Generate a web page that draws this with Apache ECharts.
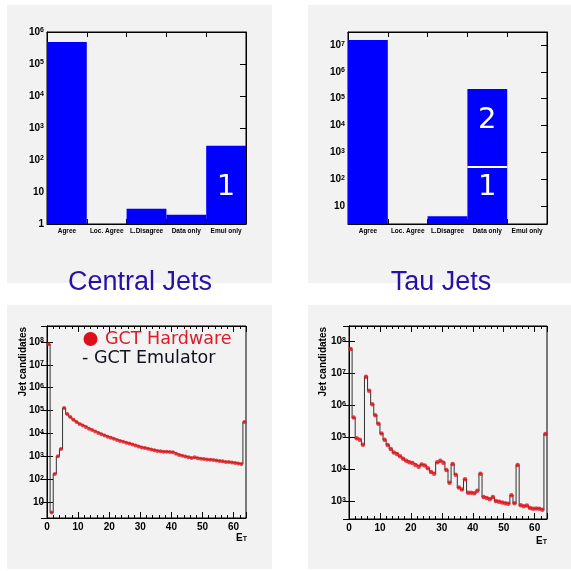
<!DOCTYPE html>
<html>
<head>
<meta charset="utf-8">
<script src="https://cdn.jsdelivr.net/npm/echarts@6/dist/echarts.min.js"></script>
<style>
  html, body { margin: 0; padding: 0; background: #fff; }
  #main { width: 571px; height: 571px; }
</style>
</head>
<body>
<div id="main"></div>
<script>
// comparison categories (top histograms)
var categories = ['Agree', 'Loc. Agree', 'L.Disagree', 'Data only', 'Emul only'];
var centralCounts = [4.9e5, null, 3, 1.95, 280];
var tauCounts = [1.55e7, null, 4.1, 2.3e5, null];
// white numbers drawn inside the bars: [category, y position, text]
var centralNotes = [['Emul only', 14, '1']];
var tauNotes = [['Data only', 1.6e4, '2'], ['Data only', 47, '1']];
var tauSplit = [['Data only', 280]];

// E_T spectra, one value per unit bin 0..63
var centralEt = [8e7, 3.5, 170, 1000, 2100, 1.3e5, 7e4, 5.2e4, 4e4, 3.2e4,
  2.6e4, 2.2e4, 1.9e4, 1.6e4, 1.4e4, 1.2e4, 1.05e4, 9200, 8200, 7200,
  6400, 5800, 5200, 4700, 4300, 3900, 3600, 3300, 3000, 2700,
  2450, 2300, 2150, 2000, 1850, 1700, 1650, 1600, 1600, 1550,
  1500, 1300, 1150, 1050, 980, 900, 850, 900, 830, 790,
  760, 730, 700, 680, 650, 620, 600, 560, 560, 540,
  510, 480, 460, 3.2e4];
var tauEt = [5.8e7, 4.2e5, 9.5e4, 8.5e4, 6.0e4, 7.8e6, 2.9e6, 1.1e6, 5.0e5, 2.7e5,
  1.35e5, 8.5e4, 5.9e4, 4.4e4, 3.4e4, 3.1e4, 2.6e4, 2.2e4, 1.9e4, 1.7e4,
  1.6e4, 1.4e4, 1.24e4, 1.45e4, 1.35e4, 1.1e4, 8500, 7500, 1.7e4, 1.9e4,
  1.65e4, 9800, 3900, 1.5e4, 7000, 2800, 2400, 5000, 1900, 1900,
  1850, 2200, 7500, 1400, 1300, 1200, 1400, 1050, 1000, 950,
  900, 870, 1600, 900, 1.4e4, 780, 720, 760, 640, 610,
  620, 600, 560, 1.3e5];
var etTicks = [0, 10, 20, 30, 40, 50, 60];

var FONT = '"Liberation Sans", Arial, sans-serif';
var PANEL = '#f2f2f2';
var BLUE = '#0000ff';
var RED = '#e3141c';

function powLabel(v) {
  var e = Math.log10(v), r = Math.round(e);
  if (Math.abs(e - r) > 1e-6) return '';
  if (r === 0) return '1';
  if (r === 1) return '10';
  return '10{s|' + r + '}';
}

function logAxis(grid, min, max, pos) {
  return {
    type: 'log', logBase: 10, gridIndex: grid, min: min, max: max, position: pos,
    axisLine: { show: true, lineStyle: { color: '#000', width: 1 } },
    axisTick: { show: true, inside: true, length: 6, lineStyle: { color: '#000' } },
    splitLine: { show: false },
    axisLabel: {
      show: pos === 'left', formatter: powLabel, margin: 3,
      color: '#000', fontFamily: FONT, fontWeight: 'bold', fontSize: 10,
      rich: { s: { fontSize: 7, fontWeight: 'bold', fontFamily: FONT, color: '#000', verticalAlign: 'top' } }
    }
  };
}

function catAxis(grid, pos) {
  return {
    type: 'category', gridIndex: grid, data: categories, position: pos,
    axisLine: { show: true, lineStyle: { color: '#000', width: 1 } },
    axisTick: { show: true, inside: true, length: 5, lineStyle: { color: '#000' } },
    axisLabel: { show: pos === 'bottom', interval: 0, margin: 4, color: '#000',
      fontFamily: FONT, fontWeight: 'bold', fontSize: 6.5 },
    splitLine: { show: false }
  };
}

function etAxis(grid, pos) {
  return {
    type: 'value', gridIndex: grid, min: 0, max: 64, interval: 10, position: pos,
    axisLine: { show: true, onZero: false, lineStyle: { color: '#000', width: 1 } },
    axisTick: { show: true, inside: true, length: 6, lineStyle: { color: '#000' } },
    minorTick: { show: true, splitNumber: 5, length: 3, lineStyle: { color: '#000' } },
    splitLine: { show: false },
    axisLabel: {
      show: pos === 'bottom', margin: 4, color: '#000', fontFamily: FONT, fontWeight: 'bold', fontSize: 10,
      formatter: function (v) { return etTicks.indexOf(v) >= 0 ? String(v) : ''; }
    }
  };
}

function edges(bins) {
  var out = bins.map(function (v, i) { return [i, v]; });
  out.push([bins.length, bins[bins.length - 1]]);
  return out;
}
function centers(bins) {
  return bins.map(function (v, i) { return [i + 0.5, v]; });
}

function noteSeries(xi, yi, notes) {
  return {
    type: 'custom', xAxisIndex: xi, yAxisIndex: yi, data: notes.map(function (n) { return [n[0], n[1]]; }),
    z: 5, silent: true,
    renderItem: function (params, api) {
      var p = api.coord([api.value(0), api.value(1)]);
      return { type: 'text', x: p[0], y: p[1],
        style: { text: notes[params.dataIndex][2], fill: '#fff', font: '29px "DejaVu Sans"', align: 'center', verticalAlign: 'middle' } };
    }
  };
}

var chart = echarts.init(document.getElementById('main'), null, { renderer: 'canvas' });

chart.setOption({
  animation: false,
  backgroundColor: '#fff',
  title: [
    { text: 'Central Jets', left: 140, top: 283, textAlign: 'center', textVerticalAlign: 'middle', padding: 0,
      textStyle: { color: '#2a0fa8', fontFamily: FONT, fontWeight: 'normal', fontSize: 27 } },
    { text: 'Tau Jets', left: 441, top: 283, textAlign: 'center', textVerticalAlign: 'middle', padding: 0,
      textStyle: { color: '#2a0fa8', fontFamily: FONT, fontWeight: 'normal', fontSize: 27 } }
  ],
  grid: [
    { left: 47, top: 32, width: 199, height: 192, show: true, borderColor: '#000', borderWidth: 1 },
    { left: 348, top: 32, width: 199, height: 192, show: true, borderColor: '#000', borderWidth: 1 },
    { left: 47, top: 326, width: 199, height: 192, show: true, borderColor: '#000', borderWidth: 1 },
    { left: 349, top: 326, width: 198, height: 193, show: true, borderColor: '#000', borderWidth: 1 }
  ],
  xAxis: [
    catAxis(0, 'bottom'), catAxis(0, 'top'),
    catAxis(1, 'bottom'), catAxis(1, 'top'),
    etAxis(2, 'bottom'), etAxis(2, 'top'),
    etAxis(3, 'bottom'), etAxis(3, 'top')
  ],
  yAxis: [
    logAxis(0, 1, 1e6, 'left'), logAxis(0, 1, 1e6, 'right'),
    logAxis(1, 2.1, 3.1e7, 'left'), logAxis(1, 2.1, 3.1e7, 'right'),
    logAxis(2, 2, 5e8, 'left'), logAxis(2, 2, 5e8, 'right'),
    logAxis(3, 290, 3e8, 'left'), logAxis(3, 290, 3e8, 'right')
  ],
  series: [
    { name: 'Central', type: 'bar', xAxisIndex: 0, yAxisIndex: 0, data: centralCounts,
      barCategoryGap: '0%', itemStyle: { color: BLUE }, clip: true },
    noteSeries(0, 0, centralNotes),
    { name: 'Tau', type: 'bar', xAxisIndex: 2, yAxisIndex: 2, data: tauCounts,
      barCategoryGap: '0%', itemStyle: { color: BLUE }, clip: true },
    { type: 'custom', xAxisIndex: 2, yAxisIndex: 2, data: tauSplit, z: 5, silent: true,
      renderItem: function (params, api) {
        var p = api.coord([api.value(0), api.value(1)]);
        var w = api.size([1, 0], [api.value(0), api.value(1)])[0];
        return { type: 'line', shape: { x1: p[0] - w / 2, y1: p[1], x2: p[0] + w / 2, y2: p[1] },
          style: { stroke: '#fff', lineWidth: 2 } };
      } },
    noteSeries(2, 2, tauNotes),
    { name: 'GCT Emulator', type: 'line', step: 'end', xAxisIndex: 4, yAxisIndex: 4, data: edges(centralEt),
      showSymbol: false, lineStyle: { color: '#333', width: 1 }, clip: true },
    { name: 'GCT Hardware', type: 'scatter', xAxisIndex: 4, yAxisIndex: 4, data: centers(centralEt),
      symbol: 'circle', symbolSize: 4, itemStyle: { color: RED }, z: 4 },
    { name: 'Tau Emulator', type: 'line', step: 'end', xAxisIndex: 6, yAxisIndex: 6, data: edges(tauEt),
      showSymbol: false, lineStyle: { color: '#333', width: 1 }, clip: true },
    { name: 'Tau Hardware', type: 'scatter', xAxisIndex: 6, yAxisIndex: 6, data: centers(tauEt),
      symbol: 'circle', symbolSize: 4.5, itemStyle: { color: RED }, z: 4 }
  ],
  graphic: [
    { type: 'rect', z: -10, shape: { x: 7, y: 5, width: 265, height: 278 }, style: { fill: PANEL } },
    { type: 'rect', z: -10, shape: { x: 308, y: 5, width: 263, height: 278 }, style: { fill: PANEL } },
    { type: 'rect', z: -10, shape: { x: 7, y: 305, width: 265, height: 264 }, style: { fill: PANEL } },
    { type: 'rect', z: -10, shape: { x: 308, y: 305, width: 263, height: 264 }, style: { fill: PANEL } },
    // legend of the central spectrum
    { type: 'circle', z: 10, shape: { cx: 90.5, cy: 339, r: 7 }, style: { fill: '#dd0f18' } },
    { type: 'text', z: 10, x: 105, y: 339, style: { text: 'GCT Hardware', fill: '#dd1a28',
      font: '17.5px "DejaVu Sans"', verticalAlign: 'middle' } },
    { type: 'text', z: 10, x: 82, y: 358.5, style: { text: '- GCT Emulator', fill: '#10101e',
      font: '17.5px "DejaVu Sans"', verticalAlign: 'middle' } },
    // axis titles
    { type: 'text', z: 10, x: 23.5, y: 327, rotation: Math.PI / 2, style: { text: 'Jet candidates', fill: '#000',
      font: 'bold 10px "Liberation Sans"', align: 'right', verticalAlign: 'middle' } },
    { type: 'text', z: 10, x: 323.5, y: 327, rotation: Math.PI / 2, style: { text: 'Jet candidates', fill: '#000',
      font: 'bold 10px "Liberation Sans"', align: 'right', verticalAlign: 'middle' } },
    { type: 'text', z: 10, x: 247, y: 538, style: { text: 'E{t|T}', fill: '#000', align: 'right', verticalAlign: 'middle',
      font: 'bold 10px "Liberation Sans"', rich: { t: { font: 'bold 7px "Liberation Sans"', verticalAlign: 'bottom' } } } },
    { type: 'text', z: 10, x: 547, y: 541, style: { text: 'E{t|T}', fill: '#000', align: 'right', verticalAlign: 'middle',
      font: 'bold 10px "Liberation Sans"', rich: { t: { font: 'bold 7px "Liberation Sans"', verticalAlign: 'bottom' } } } }
  ]
});
</script>
</body>
</html>
